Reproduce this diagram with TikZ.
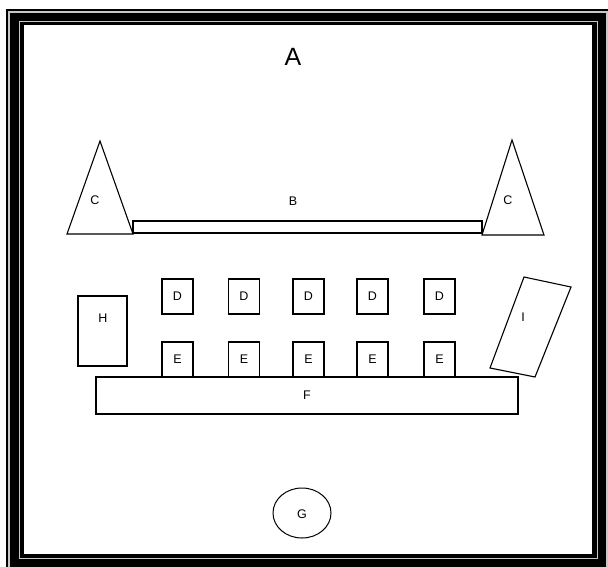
\documentclass[tikz,border=0pt]{standalone}
\usepackage{fontspec}
\setmainfont{Liberation Sans}
\begin{document}
\begin{tikzpicture}[x=1pt,y=-1pt,
  shp/.style={draw, line width=1.1pt},
  box/.style={shp, inner sep=0pt, font=\fontsize{12.5}{14}\selectfont},
  lbl/.style={inner sep=0pt, font=\fontsize{12.5}{14}\selectfont},
  framegray/.style={draw=black!22, line width=1.4pt}]
\useasboundingbox (0,0) rectangle (608,566);
\clip (0,0) rectangle (608,566);
% frame
\fill[black] (6,9) rectangle (614,574);
\draw[framegray] (9,12) rectangle (607,569);
\draw[framegray] (19.5,21.5) rectangle (597.5,558.5);
\fill[white] (24,25) rectangle (592,554);
% title
\node[inner sep=0pt, font=\fontsize{25}{28}\selectfont] (A) at (293,57) {A};
% triangles
\coordinate (cl1) at (100,141);
\coordinate (cl2) at (133,234);
\coordinate (cl3) at (67,234);
\draw[shp, line join=miter] (cl1) -- (cl2) -- (cl3) -- cycle;
\node[lbl] (Cl) at (95,200) {C};
\coordinate (cr1) at (512,140);
\coordinate (cr2) at (544,235);
\coordinate (cr3) at (482,235);
\draw[shp, line join=miter] (cr1) -- (cr2) -- (cr3) -- cycle;
\node[lbl] (Cr) at (508,200) {C};
% B
\node[box, minimum width=349pt, minimum height=12pt] (B) at (307.5,227) {};
\node[lbl] (Blbl) at (293,201) {B};
% D boxes
\foreach \i/\x in {1/177.5,2/244,3/308.5,4/372.5,5/439.5}{
  \node[box, minimum width=31pt, minimum height=35pt] (d\i) at (\x,296.5) {D};
  \node[box, minimum width=31pt, minimum height=35pt] (e\i) at (\x,359.5) {E};
}
% F
\node[box, minimum width=422pt, minimum height=37pt] (F) at (307,395.5) {F};
% H
\node[box, minimum width=49pt, minimum height=70pt] (H) at (102.5,331) {};
\node[lbl] (Hlbl) at (103,318) {H};
% I
\coordinate (i1) at (524,277);
\coordinate (i2) at (571,287);
\coordinate (i3) at (535,377);
\coordinate (i4) at (490,368);
\draw[shp] (i1) -- (i2) -- (i3) -- (i4) -- cycle;
\node[lbl] (Ilbl) at (523,317) {I};
% G
\draw[shp, line width=1pt] (302,513) ellipse [x radius=29pt, y radius=25pt];
\node[lbl] (G) at (302,514) {G};
\end{tikzpicture}
\end{document}
